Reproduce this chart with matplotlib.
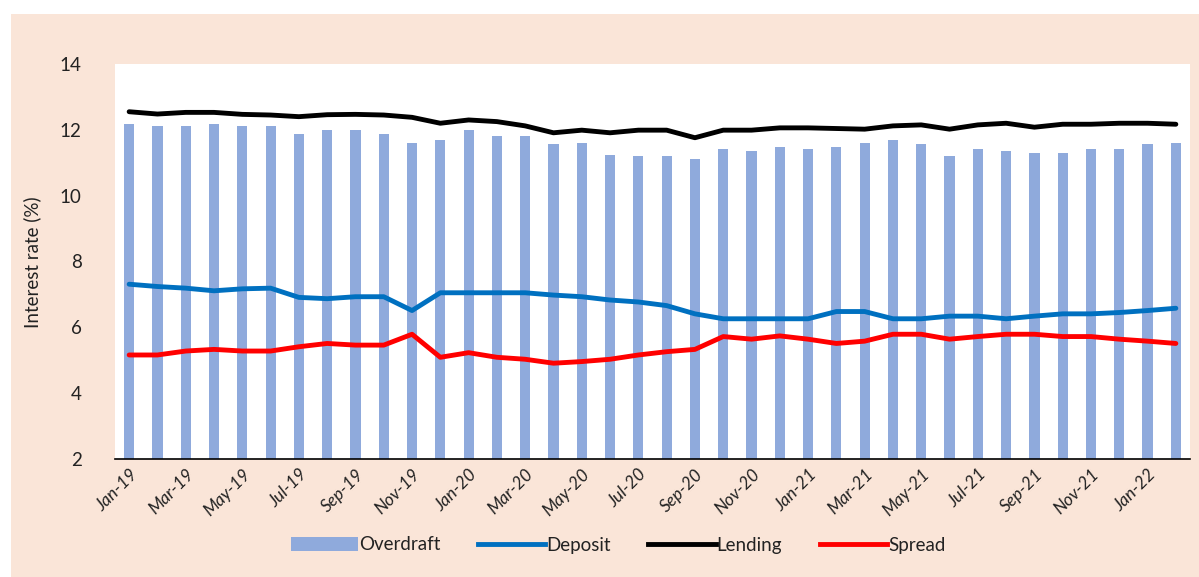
import matplotlib
matplotlib.use("Agg")
import matplotlib.pyplot as plt
from matplotlib.patches import Rectangle, Patch
from matplotlib.lines import Line2D
import numpy as np

months = [
    "Jan-19", "Feb-19", "Mar-19", "Apr-19", "May-19", "Jun-19", "Jul-19", "Aug-19",
    "Sep-19", "Oct-19", "Nov-19", "Dec-19", "Jan-20", "Feb-20", "Mar-20", "Apr-20",
    "May-20", "Jun-20", "Jul-20", "Aug-20", "Sep-20", "Oct-20", "Nov-20", "Dec-20",
    "Jan-21", "Feb-21", "Mar-21", "Apr-21", "May-21", "Jun-21", "Jul-21", "Aug-21",
    "Sep-21", "Oct-21", "Nov-21", "Dec-21", "Jan-22", "Feb-22",
]

overdraft = [
    12.17, 12.11, 12.11, 12.17, 12.11, 12.11, 11.86, 11.99, 11.99, 11.86,
    11.61, 11.68, 11.99, 11.80, 11.80, 11.56, 11.61, 11.25, 11.19, 11.19,
    11.12, 11.43, 11.37, 11.49, 11.43, 11.49, 11.61, 11.68, 11.56, 11.19,
    11.43, 11.37, 11.31, 11.31, 11.43, 11.43, 11.56, 11.61,
]

deposit = [
    7.31, 7.24, 7.19, 7.11, 7.17, 7.19, 6.91, 6.87, 6.93, 6.93,
    6.51, 7.05, 7.05, 7.05, 7.05, 6.98, 6.93, 6.83, 6.77, 6.66,
    6.41, 6.26, 6.26, 6.26, 6.26, 6.48, 6.48, 6.26, 6.26, 6.34,
    6.34, 6.26, 6.34, 6.41, 6.41, 6.45, 6.51, 6.58,
]

lending = [
    12.55, 12.48, 12.53, 12.53, 12.47, 12.45, 12.40, 12.46, 12.47, 12.45,
    12.38, 12.20, 12.30, 12.25, 12.12, 11.91, 11.99, 11.91, 11.99, 11.99,
    11.76, 11.99, 11.99, 12.06, 12.06, 12.04, 12.02, 12.12, 12.15, 12.02,
    12.15, 12.20, 12.08, 12.17, 12.17, 12.20, 12.20, 12.17,
]

spread = [
    5.16, 5.16, 5.28, 5.33, 5.28, 5.28, 5.41, 5.51, 5.46, 5.46,
    5.79, 5.09, 5.23, 5.09, 5.03, 4.91, 4.96, 5.03, 5.16, 5.26,
    5.33, 5.72, 5.64, 5.74, 5.64, 5.51, 5.58, 5.79, 5.79, 5.64,
    5.72, 5.79, 5.79, 5.72, 5.72, 5.64, 5.58, 5.51,
]

y_ticks = [2, 4, 6, 8, 10, 12, 14]

PEACH = "#FAE5D8"
BAR = "#8FAADC"
BLUE = "#0070C0"
RED = "#FF0000"
FONT = "Lato"
TXT = "#222222"

W, H = 1199, 577
fig = plt.figure(figsize=(W / 100, H / 100), dpi=100)
fig.patch.set_facecolor("white")
# peach chart-area panel, leaving a thin white strip on the left and top
fig.add_artist(Rectangle((11 / W, 0), 1 - 11 / W, 1 - 14 / H,
                         transform=fig.transFigure, facecolor=PEACH,
                         edgecolor="none", zorder=-10))

ax = fig.add_axes([115 / W, 1 - 459 / H, (1190 - 115) / W, (459 - 64) / H])
ax.set_facecolor("white")

x = np.arange(len(months))
LW = 3.5
ax.bar(x, np.array(overdraft) - 2, bottom=2, width=0.36, color=BAR, zorder=2)
for series, col in ((deposit, BLUE), (lending, "black"), (spread, RED)):
    ax.plot(x, series, color=col, lw=LW, solid_joinstyle="round",
            solid_capstyle="round", zorder=3)

ax.set_xlim(-0.5, len(months) - 0.5)
ax.set_ylim(2, 14)
ax.set_yticks(y_ticks)
ax.set_yticklabels([str(v) for v in y_ticks], fontsize=13.5, family=FONT,
                   color=TXT)
ax.tick_params(axis="y", length=0, pad=24)

ax.set_xticks(x[::2])
ax.set_xticklabels(months[::2], rotation=45, ha="right", rotation_mode="anchor",
                   fontsize=12.5, family=FONT, style="italic", color=TXT)
ax.tick_params(axis="x", length=0, pad=5)

for side in ("top", "right", "left"):
    ax.spines[side].set_visible(False)
ax.spines["bottom"].set_color("black")
ax.spines["bottom"].set_linewidth(1.2)

fig.text(32 / W, 1 - 262 / H, "Interest rate (%)", rotation=90, ha="center",
         va="center", fontsize=13.5, family=FONT, color=TXT)

handles = [
    Patch(facecolor=BAR, edgecolor="none"),
    Line2D([0], [0], color=BLUE, lw=LW),
    Line2D([0], [0], color="black", lw=LW),
    Line2D([0], [0], color=RED, lw=LW),
]
labels = ["Overdraft", "Deposit", "Lending", "Spread"]
leg = fig.legend(handles, labels, loc="center", bbox_to_anchor=(618 / W, 1 - 545 / H),
                 ncol=4, frameon=False, handlelength=3.6, handletextpad=0.05,
                 columnspacing=2.0, prop={"family": FONT, "size": 13.5})
for t in leg.get_texts():
    t.set_color(TXT)

fig.savefig("out.png", dpi=100, facecolor=fig.get_facecolor())
